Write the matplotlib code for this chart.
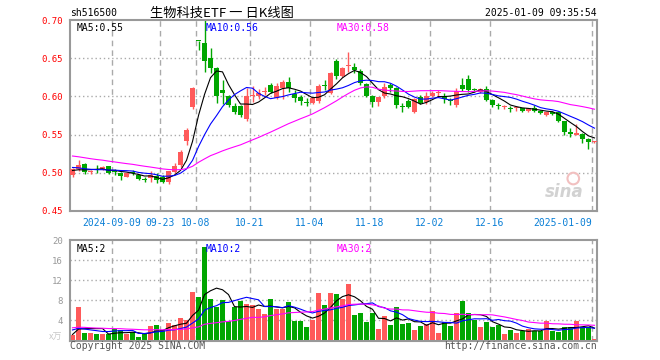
import numpy as np
import pandas as pd
import matplotlib
matplotlib.use("Agg")
import matplotlib.pyplot as plt

# daily candles, 2024-08-29 .. 2025-01-09
open_ = [0.497, 0.5046, 0.512, 0.501, 0.505, 0.505, 0.509, 0.502, 0.500, 0.495,
         0.501, 0.4967, 0.4915, 0.493, 0.496, 0.494, 0.488, 0.5015, 0.510, 0.541,
         0.586, 0.673, 0.6695, 0.650, 0.637, 0.609, 0.600, 0.587, 0.588, 0.570,
         0.600, 0.601, 0.606, 0.615, 0.598, 0.611, 0.619, 0.6027, 0.599, 0.5925,
         0.592, 0.5945, 0.614, 0.605, 0.6468, 0.6267, 0.640, 0.638, 0.6337, 0.616,
         0.6005, 0.5923, 0.600, 0.615, 0.6106, 0.587, 0.5945, 0.580, 0.5988, 0.5932,
         0.6005, 0.6042, 0.6005, 0.595, 0.589, 0.6149, 0.6227, 0.609, 0.6053, 0.6097,
         0.5953, 0.5883, 0.5862, 0.5842, 0.5849, 0.5844, 0.5805, 0.5844, 0.5814, 0.5753,
         0.5801, 0.580, 0.5679, 0.554, 0.5497, 0.551, 0.5445, 0.5399]
high = [0.506, 0.517, 0.513, 0.504, 0.510, 0.509, 0.509, 0.5045, 0.501, 0.501,
        0.504, 0.498, 0.494, 0.502, 0.500, 0.497, 0.503, 0.5125, 0.530, 0.558,
        0.612, 0.673, 0.700, 0.663, 0.639, 0.6215, 0.602, 0.591, 0.589, 0.611,
        0.613, 0.610, 0.6127, 0.617, 0.617, 0.6215, 0.626, 0.608, 0.602, 0.5975,
        0.5997, 0.6162, 0.622, 0.6324, 0.6486, 0.639, 0.658, 0.6433, 0.6355, 0.618,
        0.602, 0.5997, 0.617, 0.618, 0.6127, 0.592, 0.5962, 0.5975, 0.602, 0.606,
        0.6075, 0.6084, 0.6042, 0.5975, 0.6106, 0.6236, 0.628, 0.611, 0.611, 0.613,
        0.596, 0.591, 0.5888, 0.5875, 0.5875, 0.5853, 0.585, 0.5888, 0.5823, 0.580,
        0.5814, 0.5814, 0.5683, 0.5583, 0.5645, 0.552, 0.545, 0.5412]
low = [0.495, 0.503, 0.499, 0.4985, 0.4995, 0.504, 0.498, 0.497, 0.490, 0.494,
       0.497, 0.490, 0.488, 0.488, 0.486, 0.486, 0.485, 0.500, 0.508, 0.537,
       0.584, 0.661, 0.632, 0.631, 0.591, 0.590, 0.586, 0.5775, 0.573, 0.568,
       0.593, 0.597, 0.602, 0.604, 0.596, 0.597, 0.6062, 0.5923, 0.589, 0.5875,
       0.590, 0.592, 0.608, 0.603, 0.6223, 0.625, 0.6324, 0.630, 0.615, 0.599,
       0.5866, 0.588, 0.598, 0.6062, 0.5845, 0.580, 0.5845, 0.5788, 0.5897, 0.590,
       0.599, 0.599, 0.592, 0.589, 0.5866, 0.6075, 0.606, 0.606, 0.604, 0.5945,
       0.5857, 0.5832, 0.5836, 0.580, 0.5814, 0.5797, 0.5792, 0.5792, 0.5771, 0.574,
       0.5757, 0.567, 0.5497, 0.547, 0.549, 0.5388, 0.5309, 0.5388]
close = [0.505, 0.510, 0.501, 0.503, 0.504, 0.508, 0.500, 0.501, 0.496, 0.500,
         0.500, 0.492, 0.491, 0.4967, 0.490, 0.4875, 0.502, 0.509, 0.527, 0.556,
         0.611, 0.672, 0.6465, 0.637, 0.600, 0.605, 0.589, 0.580, 0.576, 0.600,
         0.602, 0.605, 0.607, 0.606, 0.614, 0.619, 0.6105, 0.5975, 0.594, 0.592,
         0.5975, 0.6136, 0.6135, 0.631, 0.6267, 0.6368, 0.641, 0.6346, 0.617, 0.6005,
         0.593, 0.5988, 0.6127, 0.6106, 0.589, 0.5866, 0.5866, 0.5962, 0.591, 0.6005,
         0.6049, 0.6062, 0.5962, 0.5945, 0.6075, 0.6093, 0.6084, 0.6084, 0.6097, 0.5958,
         0.5892, 0.5879, 0.5866, 0.5840, 0.5853, 0.5810, 0.5844, 0.5814, 0.5779, 0.579,
         0.5771, 0.5683, 0.554, 0.5505, 0.5527, 0.5445, 0.5401, 0.5405]
volume = [1.1, 6.7, 1.4, 1.4, 1.2, 1.2, 1.2, 2.2, 2.0, 1.2,
          1.7, 0.6, 1.2, 2.9, 3.1, 2.0, 3.5, 3.1, 4.5, 4.1,
          9.7, 8.7, 18.7, 8.3, 6.7, 8.1, 3.9, 6.7, 7.9, 7.3,
          7.1, 6.3, 5.3, 8.3, 6.3, 6.3, 7.7, 3.9, 3.9, 2.7,
          4.1, 9.5, 7.1, 9.5, 9.3, 8.3, 11.3, 5.1, 5.5, 3.7,
          5.5, 2.3, 4.9, 3.1, 6.7, 3.3, 3.5, 2.1, 2.9, 3.3,
          5.9, 1.5, 3.7, 2.9, 5.5, 7.9, 5.5, 4.1, 2.7, 3.7,
          2.7, 3.1, 1.3, 2.1, 1.5, 1.9, 2.3, 1.9, 1.9, 3.9,
          1.9, 1.7, 2.7, 2.7, 3.9, 2.7, 2.7, 0.3]

# the 29 sessions before the window, only feed the moving averages
prior_close = [0.540, 0.538, 0.541, 0.536, 0.534, 0.537, 0.533, 0.530, 0.532, 0.528,
               0.531, 0.527, 0.529, 0.526, 0.524, 0.525, 0.522, 0.520, 0.518, 0.518,
               0.515, 0.513, 0.510, 0.509, 0.508, 0.505, 0.502, 0.501, 0.502]
prior_volume = [3.2, 2.5, 3.8, 2.9, 2.2, 3.1, 2.6, 2.4, 3.5, 2.8,
                2.3, 2.9, 2.6, 3.0, 2.4, 2.7, 2.5, 2.8, 2.2, 2.6,
                3.4, 2.9, 3.1, 2.7, 2.9, 1.3, 1.1, 1.2, 1.3]

tick_idx = [7, 15, 21, 30, 40, 50, 60, 70, 87]
tick_labels = ["2024-09-09", "09-23", "10-08", "10-21", "11-04",
               "11-18", "12-02", "12-16", "2025-01-09"]

UP, DOWN = "#ff5a5a", "#00a600"
MONO = "DejaVu Sans Mono"
CJK = ["Noto Sans CJK SC", "DejaVu Sans"]
W, H = 660, 360

n = len(close)
x = np.arange(n)
o, h, l, c = map(np.array, (open_, high, low, close))
v = np.array(volume)
colors = [UP if cc >= oo else DOWN for oo, cc in zip(o, c)]

cs = pd.Series(prior_close + close)
vs = pd.Series(prior_volume + volume)
k = len(prior_close)
ma = {p: cs.rolling(p).mean().values[k:] for p in (5, 10, 30)}
vma = {p: vs.rolling(p).mean().values[k:] for p in (5, 10, 30)}
ma_colors = {5: "black", 10: "#0000ff", 30: "#ff00ff"}

fig = plt.figure(figsize=(W / 100, H / 100), dpi=100)


def box(left, top, right, bottom):
    return [left / W, 1 - bottom / H, (right - left) / W, (bottom - top) / H]


def fx(px_x, px_y):
    return px_x / W, 1 - px_y / H


ax = fig.add_axes(box(70, 20, 597, 211))
axv = fig.add_axes(box(70, 240, 597, 340.5))

for a in (ax, axv):
    a.set_xlim(-0.42, n - 0.58)
    for s in a.spines.values():
        s.set_color("#999999")
        s.set_linewidth(1.5)
    for t in tick_idx:
        a.axvline(t - 0.42, color="#aaaaaa", lw=1, ls=(0, (4, 3)), zorder=0)
    a.tick_params(length=0, pad=5)

# price panel
yt = np.arange(0.45, 0.7001, 0.05)
ax.set_ylim(0.45, 0.70)
ax.set_yticks(yt)
ax.set_yticklabels([f"{t:.2f}" for t in yt], color="red", family=MONO, fontsize=6.5)
for yv in yt[1:-1]:
    ax.axhline(yv, color="#aaaaaa", lw=1, ls=(0, (1, 2)), zorder=0)

body_lo = np.minimum(o, c)
body_h = np.maximum(np.abs(c - o), 0.0012)
ax.vlines(x, l, h, colors=colors, lw=1, zorder=2)
ax.bar(x, body_h, bottom=body_lo, width=0.82, color=colors, zorder=3)
for p in (5, 10, 30):
    ax.plot(x, ma[p], color=ma_colors[p], lw=0.8, zorder=4)

ax.set_xticks([t - 0.42 for t in tick_idx])
ax.set_xticklabels(tick_labels, family=MONO, fontsize=7, color="#0a7fd6")
ax.get_xticklabels()[-1].set_ha("right")

ax.text(0.012, 0.985, f"MA5:{ma[5][-1]:.2f}", transform=ax.transAxes,
        va="top", family=MONO, fontsize=7, color="black")
ax.text(0.258, 0.985, f"MA10:{ma[10][-1]:.2f}", transform=ax.transAxes,
        va="top", family=MONO, fontsize=7, color="#0000ff")
ax.text(0.505, 0.985, f"MA30:{ma[30][-1]:.2f}", transform=ax.transAxes,
        va="top", family=MONO, fontsize=7, color="#ff00ff")

# faint sina watermark
ax.text(0.975, 0.05, "sina", transform=ax.transAxes, ha="right", va="bottom",
        fontsize=12, fontweight="bold", style="italic", color="#d2d2d2", zorder=1)
ax.scatter([0.955], [0.17], s=70, transform=ax.transAxes, facecolor="none",
           edgecolor="#f2c0c0", linewidth=1.5, zorder=1)

# volume panel
axv.set_ylim(0, 20)
axv.set_yticks([4, 8, 12, 16, 20])
axv.set_yticklabels(["4", "8", "12", "16", "20"], family=MONO, fontsize=6.5,
                    color="#999999")
axv.set_xticks([])
for yv in (4, 8, 12, 16):
    axv.axhline(yv, color="#aaaaaa", lw=1, ls=(0, (1, 2)), zorder=0)
axv.bar(x, v, width=0.82, color=colors, zorder=2)
for p in (5, 10, 30):
    axv.plot(x, vma[p], color=ma_colors[p], lw=0.8, zorder=4)
axv.text(0.012, 0.96, "MA5:2", transform=axv.transAxes, va="top",
         family=MONO, fontsize=7, color="black")
axv.text(0.258, 0.96, "MA10:2", transform=axv.transAxes, va="top",
         family=MONO, fontsize=7, color="#0000ff")
axv.text(0.505, 0.96, "MA30:2", transform=axv.transAxes, va="top",
         family=MONO, fontsize=7, color="#ff00ff")

# header / footer text
fig.text(*fx(70, 13), "sh516500", family=MONO, fontsize=7, va="center")
fig.text(*fx(222, 13), "生物科技ETF 一 日K线图", ha="center", va="center",
         family=CJK, fontsize=9.5)
fig.text(*fx(597, 13), "2025-01-09 09:35:54", ha="right", va="center",
         family=MONO, fontsize=7)
fig.text(*fx(56, 337), "x万", ha="center", va="center",
         family=CJK, fontsize=6.5, color="#c8c8c8")
fig.text(*fx(70, 346), "Copyright 2025 SINA.COM", va="center",
         family=MONO, fontsize=7, color="#555555")
fig.text(*fx(597, 346), "http://finance.sina.com.cn", ha="right", va="center",
         family=MONO, fontsize=7, color="#555555")

fig.savefig("out.png", dpi=100)
